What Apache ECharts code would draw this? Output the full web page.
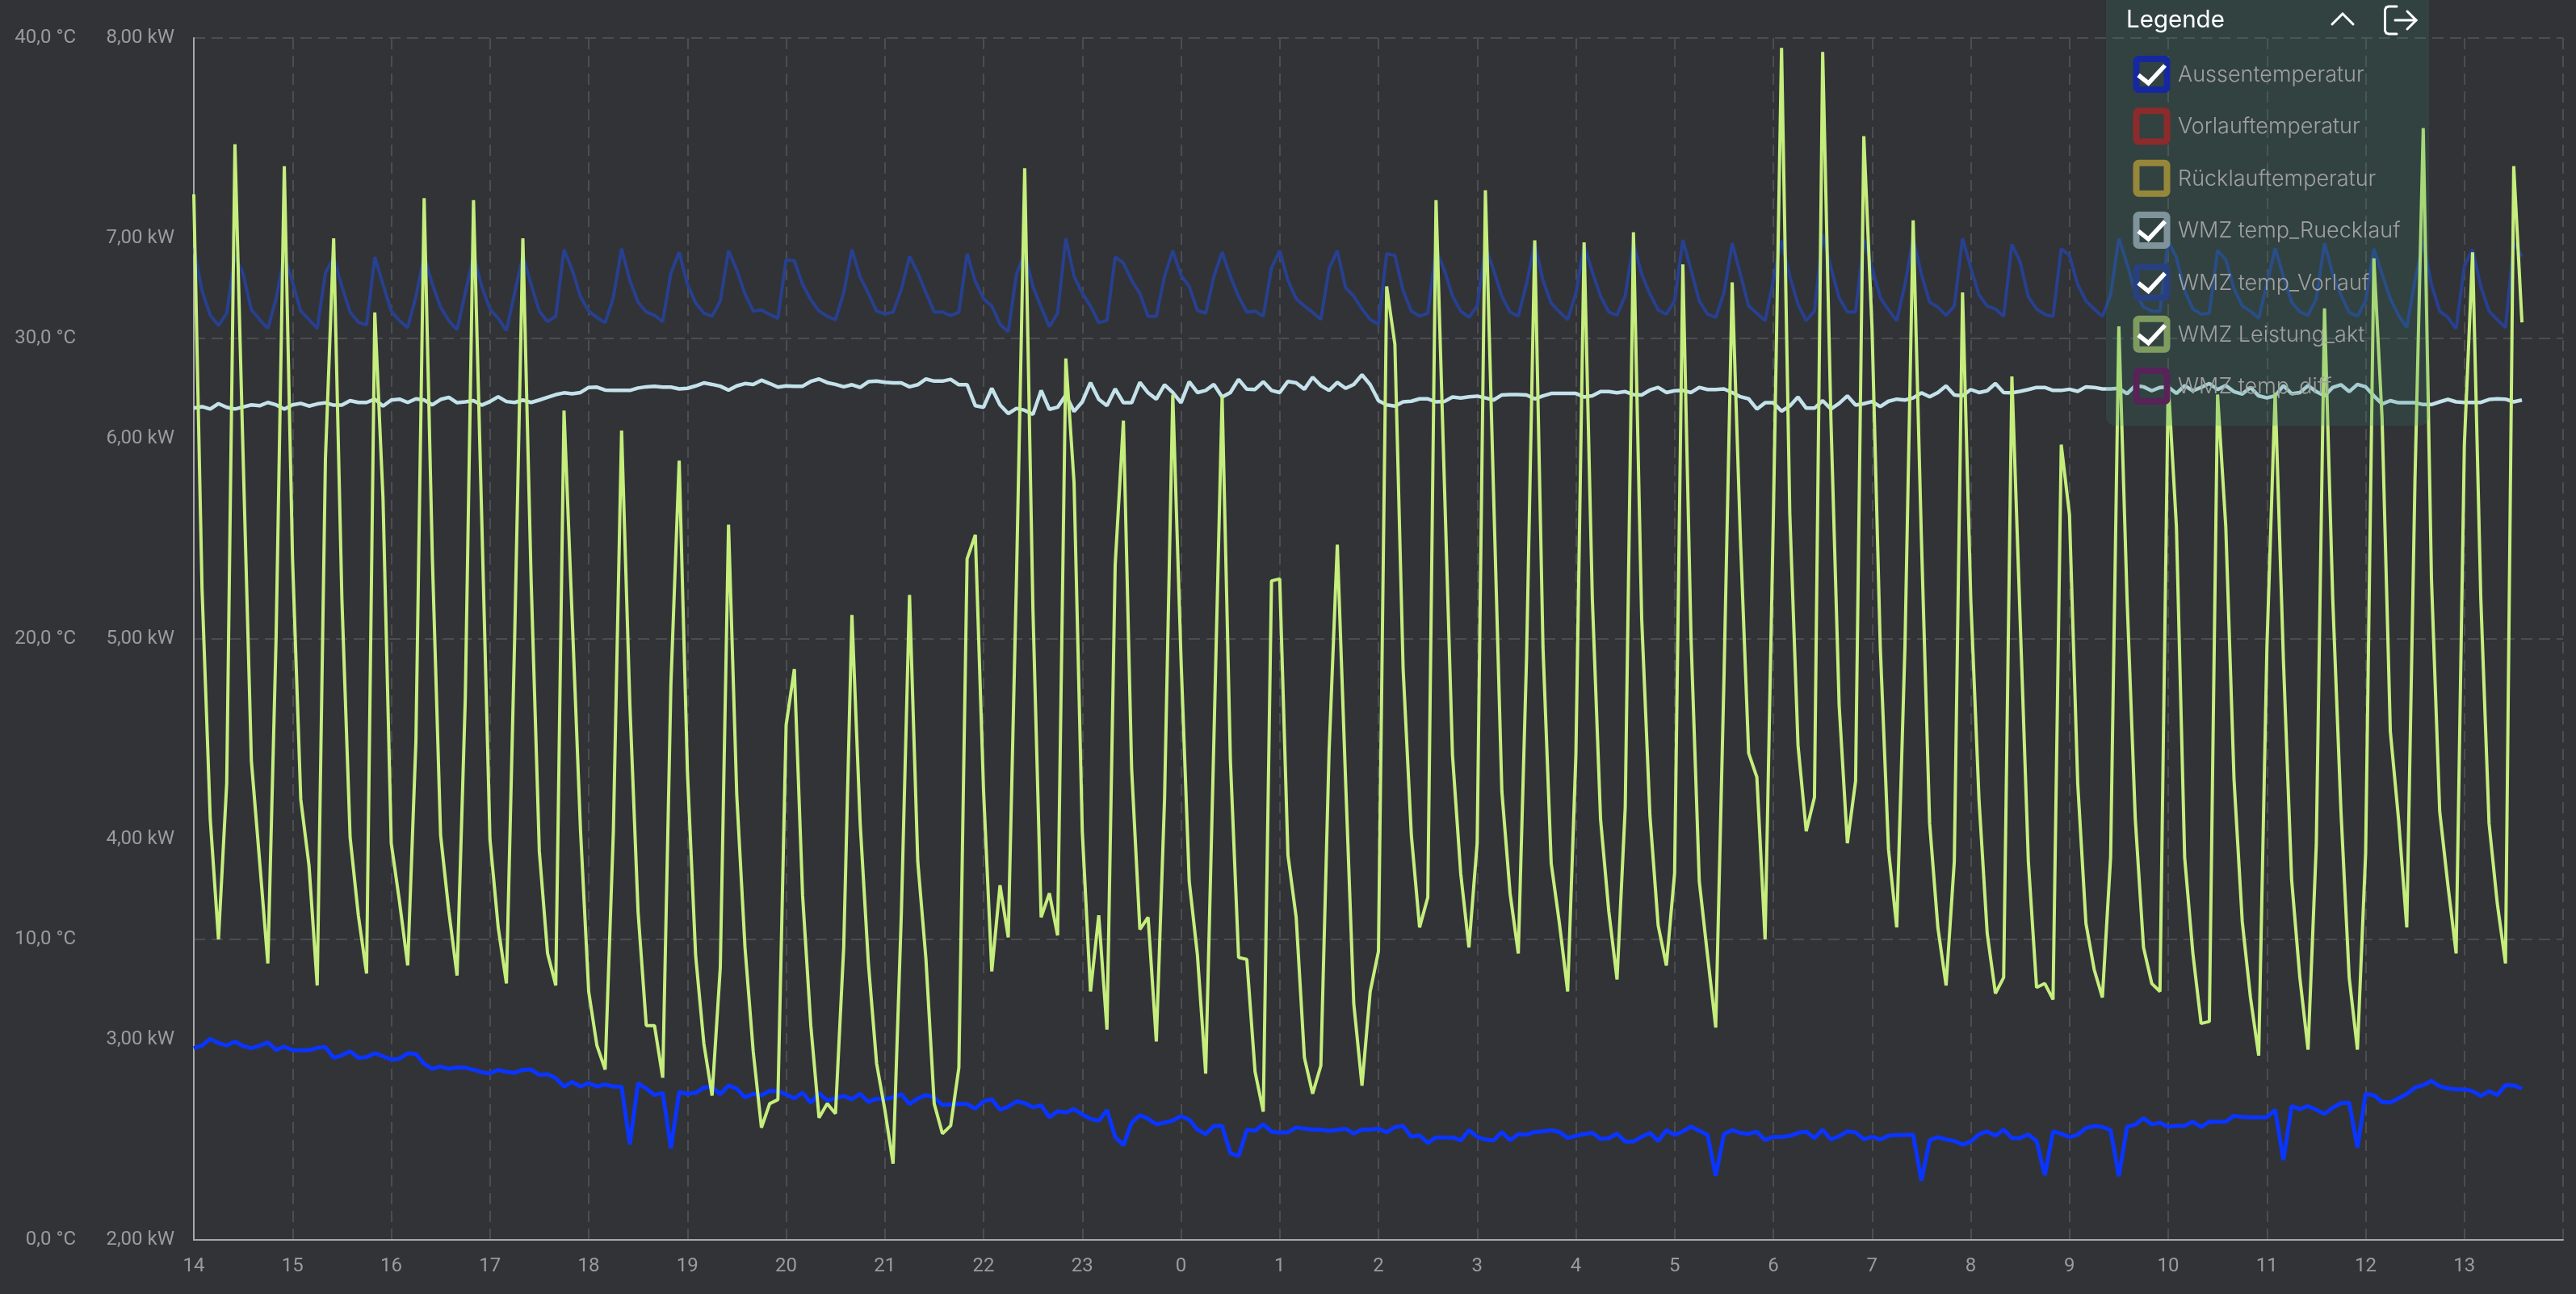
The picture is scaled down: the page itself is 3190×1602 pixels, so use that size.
<!DOCTYPE html>
<html><head><meta charset="utf-8">
<style>html,body{margin:0;padding:0;background:#323337}#c{width:3190px;height:1602px}</style>
<script src="https://cdn.jsdelivr.net/npm/echarts@6/dist/echarts.min.js"></script>
</head><body><div id="c"></div>
<script>
const hourLabels=['14','15','16','17','18','19','20','21','22','23','0','1','2','3','4','5','6','7','8','9','10','11','12','13'];
const tempTicks=[0,10,20,30,40];
const powerTicks=[2,3,4,5,6,7,8];
const legendNames=['Aussentemperatur','Vorlauftemperatur','Rücklauftemperatur','WMZ temp_Ruecklauf','WMZ temp_Vorlauf','WMZ Leistung_akt','WMZ temp_diff'];
const legendChecked=[true,false,false,true,true,true,false];
const legendColors=['#16289f','#8c2a2c','#96873a','#7e939a','#28407f','#7f9c60','#582358'];

const aussentemperatur=[6.38,6.47,6.69,6.55,6.47,6.60,6.45,6.38,6.46,6.57,6.32,6.43,6.32,6.31,6.31,6.39,6.42,6.06,6.14,6.28,6.06,6.08,6.21,6.11,6.00,6.03,6.21,6.18,5.86,5.69,5.77,5.69,5.74,5.73,5.66,5.58,5.54,5.66,5.59,5.56,5.66,5.67,5.49,5.51,5.38,5.10,5.26,5.10,5.22,5.10,5.17,5.10,5.10,3.18,5.21,5.04,4.82,4.89,3.05,4.92,4.86,4.89,5.07,5.10,4.84,5.14,5.03,4.74,4.86,4.81,4.96,4.95,4.84,4.71,4.90,4.56,4.88,4.64,4.71,4.79,4.68,4.86,4.59,4.70,4.68,4.74,4.85,4.52,4.70,4.82,4.74,4.49,4.51,4.52,
4.52,4.37,4.61,4.68,4.33,4.43,4.61,4.55,4.41,4.48,4.08,4.28,4.24,4.35,4.17,4.03,3.96,4.32,3.43,3.15,3.90,4.15,4.03,3.85,3.90,3.97,4.12,4.00,3.67,3.52,3.79,3.79,2.89,2.79,3.66,3.63,3.85,3.60,3.57,3.58,3.74,3.70,3.67,3.67,3.63,3.66,3.70,3.54,3.67,3.67,3.70,3.58,3.75,3.79,3.43,3.48,3.23,3.41,3.41,3.41,3.31,3.65,3.43,3.34,3.31,3.59,3.31,3.52,3.50,3.59,3.61,3.65,3.59,3.39,3.46,3.52,3.56,3.36,3.38,3.54,3.27,3.27,3.43,3.56,3.29,3.65,3.49,3.61,3.77,3.63,3.50,2.14,3.52,3.65,
3.56,3.53,3.60,3.32,3.43,3.43,3.46,3.56,3.60,3.39,3.67,3.34,3.45,3.61,3.58,3.35,3.43,3.34,3.47,3.49,3.49,3.50,1.97,3.31,3.42,3.34,3.29,3.17,3.27,3.51,3.61,3.47,3.67,3.39,3.39,3.51,3.29,2.15,3.61,3.53,3.42,3.50,3.72,3.79,3.76,3.65,2.12,3.76,3.84,4.05,3.84,3.90,3.76,3.80,3.80,3.93,3.76,3.93,3.93,3.93,4.13,4.09,4.08,4.08,4.08,4.33,2.66,4.45,4.35,4.45,4.33,4.19,4.40,4.55,4.57,3.07,4.86,4.81,4.59,4.57,4.71,4.86,5.07,5.15,5.29,5.11,5.04,5.01,5.01,4.95,4.79,4.95,4.82,5.15,5.14,5.04];

const tempRuecklauf=[27.68,27.73,27.65,27.83,27.71,27.65,27.72,27.79,27.76,27.87,27.79,27.65,27.79,27.84,27.75,27.82,27.86,27.78,27.78,27.93,27.87,27.87,27.98,27.75,27.95,27.98,27.87,27.99,27.95,27.79,27.97,28.04,27.86,27.89,27.93,27.78,27.90,28.06,27.90,27.87,27.95,27.87,27.95,28.04,28.13,28.19,28.16,28.20,28.37,28.38,28.28,28.27,28.27,28.27,28.35,28.39,28.41,28.38,28.38,28.32,28.34,28.42,28.52,28.47,28.41,28.28,28.42,28.50,28.47,28.61,28.50,28.38,28.42,28.41,28.41,28.57,28.65,28.53,28.47,28.39,28.46,28.37,28.56,28.58,28.54,28.52,28.52,28.39,28.46,28.65,28.58,28.58,28.64,28.46,28.46,
27.76,27.71,28.34,27.79,27.50,27.67,27.61,27.47,28.27,27.64,27.71,28.12,27.57,27.89,28.53,27.98,27.76,28.32,27.86,27.86,28.54,28.19,27.98,28.46,28.20,27.86,28.56,28.20,28.27,28.47,28.05,28.20,28.64,28.31,28.30,28.56,28.27,28.20,28.57,28.52,28.31,28.71,28.43,28.27,28.54,28.34,28.47,28.79,28.46,27.93,27.79,27.75,27.89,27.91,27.99,27.99,27.89,27.90,28.05,28.02,28.06,28.08,28.02,27.95,28.12,28.13,28.13,28.12,27.99,28.09,28.17,28.17,28.17,28.17,28.05,28.09,28.23,28.23,28.19,28.23,28.13,28.12,28.28,28.37,28.20,28.26,28.27,28.20,28.37,28.30,28.30,28.32,28.20,
28.06,27.99,27.65,27.86,27.86,27.58,27.75,28.05,27.68,27.68,27.93,27.65,27.84,28.09,27.78,27.83,27.90,27.73,27.91,27.98,27.95,28.02,28.19,28.06,28.20,28.42,28.12,28.09,28.30,28.20,28.26,28.50,28.20,28.19,28.24,28.30,28.37,28.37,28.27,28.27,28.31,28.24,28.39,28.37,28.32,28.32,28.34,28.16,28.43,28.39,28.26,28.37,28.39,28.17,28.43,28.26,28.37,28.50,28.30,28.43,28.23,28.15,28.37,28.09,28.02,28.09,28.43,28.16,28.20,28.43,28.23,28.09,28.37,28.46,28.23,28.47,28.39,28.09,27.82,27.93,27.86,27.86,27.86,27.80,27.80,27.89,27.97,27.89,27.87,27.87,27.87,27.97,27.99,27.98,27.89,27.95];

const tempVorlauf=[33.03,31.59,30.77,30.43,30.84,32.76,32.14,30.95,30.63,30.33,31.32,32.76,31.87,30.91,30.63,30.33,32.18,32.69,31.73,30.88,30.54,30.45,32.71,31.80,30.91,30.59,30.36,31.39,32.76,31.80,31.04,30.59,30.29,31.52,32.76,31.73,30.98,30.67,30.26,31.52,32.76,31.80,30.91,30.56,30.74,32.96,32.28,31.39,30.91,30.70,30.52,31.36,32.99,31.93,31.21,30.88,30.77,30.56,32.18,32.87,31.80,31.18,30.84,30.74,31.25,32.92,32.28,31.48,30.91,30.95,30.80,30.67,32.62,32.58,31.80,31.29,30.91,30.74,30.62,31.52,32.96,32.04,31.50,30.91,30.82,30.87,31.63,32.73,32.18,31.52,30.88,30.88,30.76,30.87,32.82,31.89,31.32,31.08,30.47,30.22,32.14,32.82,31.73,31.04,30.39,30.84,33.33,32.07,31.50,31.08,30.52,30.60,32.71,32.51,31.93,31.50,30.73,30.73,32.07,32.92,32.10,31.73,30.93,30.84,32.07,32.87,32.07,31.39,30.88,30.91,30.74,32.35,32.92,31.93,31.32,31.08,30.87,30.63,32.32,32.92,31.70,31.41,30.98,30.63,30.47,32.82,32.76,31.59,30.91,30.74,30.84,32.96,32.28,31.41,30.91,30.70,31.08,33.03,32.28,31.41,30.88,30.74,31.82,33.17,31.93,31.18,30.88,30.63,31.50,33.10,32.21,31.41,30.88,30.77,31.43,33.17,32.14,31.48,30.95,30.81,31.25,33.28,32.28,31.25,30.81,30.70,31.52,33.17,32.14,31.08,30.84,30.59,31.93,33.26,32.07,31.14,30.59,30.91,33.47,32.35,31.36,30.88,30.88,33.30,32.35,31.36,30.95,30.59,31.80,33.33,32.14,31.21,31.04,30.77,31.08,33.33,32.35,31.45,31.08,30.98,30.74,33.13,32.55,31.39,30.98,30.80,30.73,32.99,32.76,31.80,31.25,30.98,30.73,31.45,33.33,32.48,31.52,31.04,30.91,30.91,33.24,32.69,31.59,30.98,30.81,30.84,32.93,32.62,31.66,31.08,30.91,30.67,31.80,33.00,32.07,31.21,30.88,30.77,31.32,33.17,32.14,31.45,30.87,30.74,31.25,32.99,32.14,31.32,30.77,30.36,31.93,33.24,31.80,30.91,30.70,30.32,32.41,32.96,31.73,30.91,30.63,30.36,33.19,32.73];

const leistungAkt=[7.22,5.25,4.10,3.50,4.28,7.47,5.9,4.39,3.89,3.38,5.0,7.36,5.4,4.20,3.87,3.27,5.9,7.0,5.2,4.01,3.62,3.33,6.63,5.7,3.98,3.69,3.37,4.49,7.2,5.4,4.02,3.64,3.32,4.7,7.19,5.6,4.0,3.56,3.28,5.0,7.0,5.3,3.94,3.43,3.27,6.14,5.1,4.05,3.24,2.97,2.85,4.04,6.04,4.68,3.64,3.07,3.07,2.81,4.78,5.89,4.34,3.42,2.98,2.72,3.36,5.57,4.22,3.46,2.94,2.56,2.68,2.70,4.57,4.85,3.72,3.07,2.61,2.68,2.63,3.46,5.12,4.08,3.38,2.88,2.65,2.38,3.62,5.22,3.89,3.40,2.68,2.53,2.57,2.86,5.40,5.52,4.24,3.34,3.77,3.51,5.3,7.35,5.15,3.61,3.73,3.52,6.40,5.78,4.04,3.24,3.62,3.05,5.37,6.09,4.35,3.55,3.61,2.99,4.2,6.22,4.9,3.79,3.42,2.83,4.5,6.21,4.4,3.41,3.40,2.84,2.64,5.29,5.30,3.92,3.61,2.91,2.73,2.87,4.44,5.47,4.3,3.18,2.77,3.24,3.44,6.76,6.47,4.85,4.02,3.56,3.71,7.19,5.8,4.42,3.83,3.46,3.98,7.24,5.72,4.24,3.73,3.43,4.9,6.99,4.96,3.88,3.58,3.24,4.42,6.98,5.2,4.10,3.64,3.30,4.16,7.03,5.1,4.12,3.57,3.37,3.83,6.87,5.0,3.79,3.42,3.06,4.8,6.78,5.5,4.43,4.31,3.50,5.6,7.95,5.63,4.47,4.04,4.21,7.93,6.1,4.67,3.98,4.29,7.51,6.55,4.96,3.95,3.56,4.96,7.09,5.5,4.08,3.56,3.27,3.89,6.73,5.2,4.2,3.53,3.23,3.31,6.31,5.1,3.89,3.26,3.28,3.2,5.97,5.62,4.28,3.58,3.35,3.21,3.91,6.56,5.2,4.1,3.46,3.28,3.24,6.28,5.56,3.91,3.43,3.08,3.09,6.22,5.56,4.3,3.59,3.21,2.92,4.96,6.23,4.9,3.80,3.31,2.95,3.97,6.65,5.2,4.14,3.31,2.95,3.93,6.90,6.1,4.54,4.1,3.56,5.8,7.55,5.3,4.14,3.77,3.43,5.97,6.93,5.2,4.08,3.68,3.38,7.36,6.58];

const labelGray='#9b9b9d';
const gridGray='#4b4d51';
const axisGray='#a8a8a8';
const dash=[14,8];

// 5-minute slots: one labelled slot per hour plus the closing slot of the day
const categories=[];
hourLabels.forEach(h=>{categories.push(h);for(let k=0;k<11;k++)categories.push('');});
categories.push('');

const legendRowTop=69, legendRowStep=64.35;
const legendGraphics=[
 {type:'rect',z:100,shape:{x:2608,y:-12,width:400,height:539,r:12},style:{fill:'rgba(50,130,105,0.2)'}},
 {type:'text',z:101,x:2633,y:25,style:{text:'Legende',fill:'#ffffff',font:'400 29.5px Inter',verticalAlign:'middle'}},
 {type:'polyline',z:101,shape:{points:[[2888,30],[2901,17],[2914,30]]},style:{stroke:'#fff',lineWidth:3,fill:null,lineCap:'round'}},
 {type:'polyline',z:101,shape:{points:[[2968,8],[2958,8],[2955,9],[2953.5,12],[2953.5,38],[2955,41],[2958,42],[2968,42]]},style:{stroke:'#fff',lineWidth:3,fill:null,lineCap:'round'}},
 {type:'polyline',z:101,shape:{points:[[2966,25],[2992,25]]},style:{stroke:'#fff',lineWidth:3,lineCap:'round',fill:null}},
 {type:'polyline',z:101,shape:{points:[[2981,14],[2992,25],[2981,36]]},style:{stroke:'#fff',lineWidth:3,fill:null,lineCap:'round'}}
];
legendNames.forEach((name,i)=>{
  const top=legendRowTop+i*legendRowStep;
  legendGraphics.push({type:'rect',z:101,shape:{x:2645.5,y:top+4,width:38,height:38,r:3},style:{stroke:legendColors[i],lineWidth:8,fill:null}});
  if(legendChecked[i]) legendGraphics.push({type:'polyline',z:102,shape:{points:[[2648,top+24],[2660.5,top+34],[2681,top+12]]},style:{stroke:'#fff',lineWidth:5.5,fill:null}});
  legendGraphics.push({type:'text',z:103,x:2697,y:top+24,style:{text:name,fill:'#a0a0a0',font:'300 27px Inter',verticalAlign:'middle'}});
});

function seriesOf(name,data,color,width,axis){
  return {name,type:'line',data,yAxisIndex:axis,symbol:'none',showSymbol:false,smooth:false,
    lineStyle:{color,width,join:'bevel'},silent:true,animation:false};
}

const chart=echarts.init(document.getElementById('c'),null,{renderer:'canvas',width:3190,height:1602});
chart.setOption({
  animation:false,
  backgroundColor:'#323337',
  legend:{show:false},
  tooltip:{show:false},
  grid:{left:240,right:16,top:47,bottom:67,containLabel:false},
  xAxis:{type:'category',data:categories,boundaryGap:false,
    axisLine:{show:true,lineStyle:{color:axisGray,width:2}},
    axisTick:{show:false},
    axisLabel:{interval:11,color:labelGray,fontFamily:'Roboto',fontSize:24,margin:21,hideOverlap:false},
    splitLine:{show:true,interval:11,lineStyle:{color:gridGray,width:2,type:dash}}},
  yAxis:[
    {type:'value',position:'left',min:tempTicks[0],max:tempTicks[tempTicks.length-1],interval:10,
      offset:122,axisLine:{show:false},axisTick:{show:false},
      axisLabel:{color:labelGray,fontFamily:'Roboto',fontSize:24,margin:24,padding:[5,0,0,0],
        formatter:v=>v.toFixed(1).replace('.',',')+' °C'},
      splitLine:{show:true,lineStyle:{color:gridGray,width:2,type:dash}}},
    {type:'value',position:'left',min:powerTicks[0],max:powerTicks[powerTicks.length-1],interval:1,
      axisLine:{show:true,onZero:false,lineStyle:{color:axisGray,width:2}},axisTick:{show:false},
      axisLabel:{color:labelGray,fontFamily:'Roboto',fontSize:24,margin:24,padding:[5,0,0,0],
        formatter:v=>v.toFixed(2).replace('.',',')+' kW'},
      splitLine:{show:false}}
  ],
  series:[
    seriesOf('Aussentemperatur',aussentemperatur,'#0a35ff',5,0),
    seriesOf('WMZ temp_Ruecklauf',tempRuecklauf,'#c4e2ea',4.5,0),
    seriesOf('WMZ temp_Vorlauf',tempVorlauf,'#27408f',4,0),
    seriesOf('WMZ Leistung_akt',leistungAkt,'#c5ee7c',4,1)
  ],
  graphic:legendGraphics
});
</script></body></html>
